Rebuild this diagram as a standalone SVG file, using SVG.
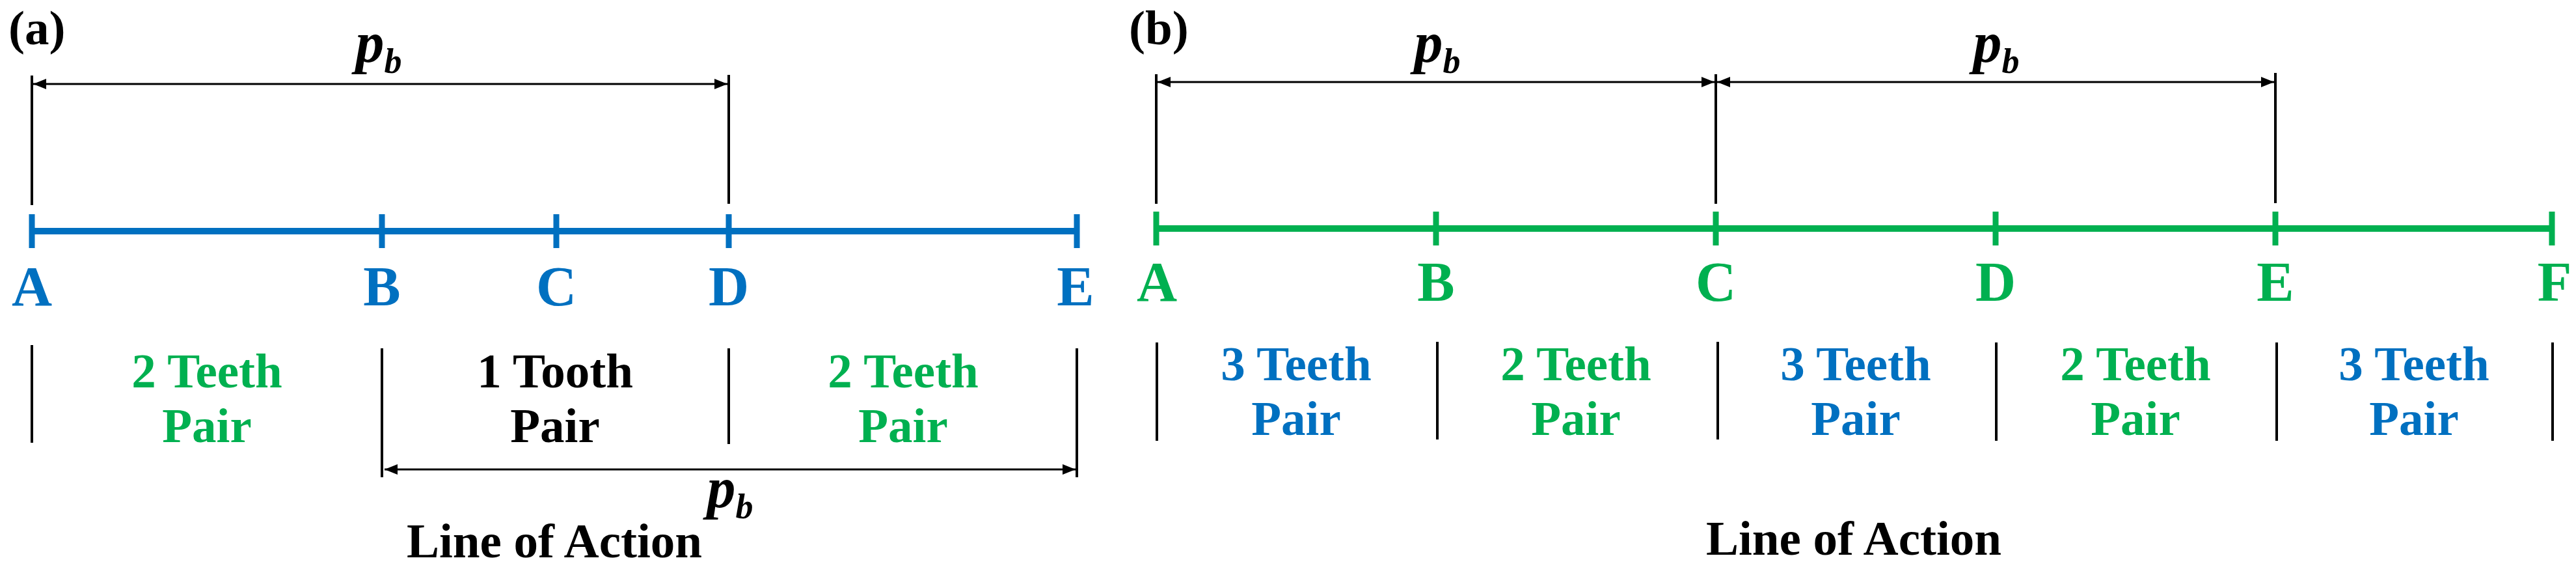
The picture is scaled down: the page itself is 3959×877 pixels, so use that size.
<svg xmlns="http://www.w3.org/2000/svg" width="3959" height="877" viewBox="0 0 3959 877">
<style>
text{font-family:"Liberation Serif","Times New Roman",serif;font-weight:bold}
.lbl{font-size:86px;text-anchor:middle}
.seg{font-size:75px;text-anchor:middle}
.pb{font-size:88px;font-style:italic;text-anchor:middle;fill:#000}
.cap{font-size:75px;fill:#000}
.blue{fill:#0070C0}
.green{fill:#00B050}
.black{fill:#000}
.ext{stroke:#000;stroke-width:4;fill:none}
.dim{stroke:#000;stroke-width:3;fill:none;marker-start:url(#ah);marker-end:url(#ah)}
.bl{stroke:#0070C0;stroke-width:10;fill:none}
.gl{stroke:#00B050;stroke-width:10;fill:none}
.tk{stroke-width:9}
</style>
<defs>
<marker id="ah" viewBox="0 0 20 16" refX="20" refY="8" markerWidth="20" markerHeight="16" markerUnits="userSpaceOnUse" orient="auto-start-reverse">
<path d="M0,0 L20,8 L0,16 Z" fill="#000"/>
</marker>
</defs>
<rect width="3959" height="877" fill="#fff"/>

<!-- Panel (a) -->
<g id="panel-a-title"><text x="13" y="68" style="font-size:75px">(a)</text></g>
<g id="a-line">
<path class="bl" d="M49,355 H1655"/>
<path class="bl tk" d="M49,329 V381 M587,329 V381 M855,329 V381 M1120,329 V381 M1655,329 V381"/>
</g>
<g id="a-labels">
<text class="lbl blue" x="49" y="469">A</text>
<text class="lbl blue" x="587" y="469">B</text>
<text class="lbl blue" x="855" y="469">C</text>
<text class="lbl blue" x="1120" y="469">D</text>
<text class="lbl blue" x="1653" y="469">E</text>
</g>
<g id="a-ext">
<path class="ext" d="M49,116 V315 M1120,115 V313"/>
<path class="ext" d="M49,530 V680 M587,535 V733 M1120,535 V682 M1655,535 V733"/>
</g>
<g id="a-seg1"><text class="seg green" x="318" y="595">2 Teeth<tspan x="318" dy="84">Pair</tspan></text></g>
<g id="a-seg2"><text class="seg black" x="853" y="595">1 Tooth<tspan x="853" dy="84">Pair</tspan></text></g>
<g id="a-seg3"><text class="seg green" x="1388" y="595">2 Teeth<tspan x="1388" dy="84">Pair</tspan></text></g>
<g id="a-pb-top"><text class="pb" x="582" y="95">p<tspan font-size="54" dy="17">b</tspan></text></g>
<g id="a-pb-bottom"><text class="pb" x="1122" y="779">p<tspan font-size="54" dy="17">b</tspan></text></g>
<g id="a-caption"><text class="cap" x="852" y="856" text-anchor="middle">Line of Action</text></g>

<!-- Panel (b) -->
<g id="panel-b-title"><text x="1735" y="68" style="font-size:75px">(b)</text></g>
<g id="b-line">
<path class="gl" d="M1777,351 H3922"/>
<path class="gl tk" d="M1777,325 V377 M2207,325 V377 M2637,325 V377 M3067,325 V377 M3497,325 V377 M3922,325 V377"/>
</g>
<g id="b-labels">
<text class="lbl green" x="1778" y="462">A</text>
<text class="lbl green" x="2207" y="462">B</text>
<text class="lbl green" x="2637" y="462">C</text>
<text class="lbl green" x="3067" y="462">D</text>
<text class="lbl green" x="3497" y="462">E</text>
<text class="lbl green" x="3926" y="462">F</text>
</g>
<g id="b-ext">
<path class="ext" d="M1777,114 V313 M2637,114 V313 M3497,112 V312"/>
<path class="ext" d="M1778,526 V677 M2209,525 V675 M2640,525 V675 M3068,526 V677 M3499,526 V677 M3923,526 V677"/>
</g>
<g id="b-seg1"><text class="seg blue" x="1992" y="584">3 Teeth<tspan x="1992" dy="84">Pair</tspan></text></g>
<g id="b-seg2"><text class="seg green" x="2422" y="584">2 Teeth<tspan x="2422" dy="84">Pair</tspan></text></g>
<g id="b-seg3"><text class="seg blue" x="2852" y="584">3 Teeth<tspan x="2852" dy="84">Pair</tspan></text></g>
<g id="b-seg4"><text class="seg green" x="3282" y="584">2 Teeth<tspan x="3282" dy="84">Pair</tspan></text></g>
<g id="b-seg5"><text class="seg blue" x="3710" y="584">3 Teeth<tspan x="3710" dy="84">Pair</tspan></text></g>
<g id="b-pb1"><text class="pb" x="2209" y="95">p<tspan font-size="54" dy="17">b</tspan></text></g>
<g id="b-pb2"><text class="pb" x="3068" y="95">p<tspan font-size="54" dy="17">b</tspan></text></g>
<g id="b-caption"><text class="cap" x="2849" y="852" text-anchor="middle">Line of Action</text></g>

<g id="connectors">
<path class="dim" d="M51,129 H1118"/>
<path class="dim" d="M591,721 H1653"/>
<path class="dim" d="M1779,126 H2635"/>
<path class="dim" d="M2639,126 H3495"/>
</g>
</svg>
